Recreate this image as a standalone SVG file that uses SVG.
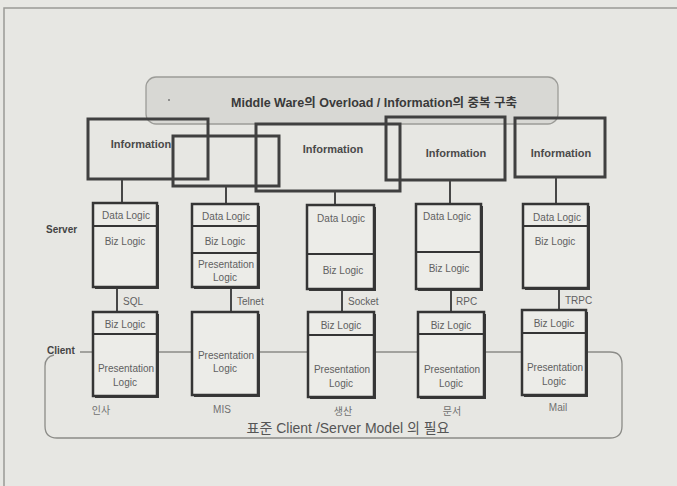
<svg xmlns="http://www.w3.org/2000/svg" width="677" height="486" viewBox="0 0 677 486">
<defs>
<style>
.bg{fill:#e7e7e3}
.frame{fill:none;stroke:#9a9a97;stroke-width:1.5}
.banner{fill:#d8d8d4;stroke:#9c9c98;stroke-width:1.3}
.info{fill:none;stroke:#404040;stroke-width:3}
.stack{fill:#ecece8;stroke:#353535;stroke-width:2.5}
.shadow{fill:#3a3a3a}
.div{stroke:#353535;stroke-width:2}
.conn{stroke:#474747;stroke-width:2;fill:none}
.cli{fill:none;stroke:#8c8c88;stroke-width:1.3}
text{font-family:"Liberation Sans","Noto Sans CJK KR",Arial,sans-serif}
.it{font-size:11px;font-weight:bold;fill:#4a4a4a;text-anchor:middle}
.lg{font-size:10px;fill:#606060;text-anchor:middle}
.pr{font-size:10px;fill:#606060}
.side{font-size:10px;font-weight:bold;fill:#444}
.nm{font-size:10px;fill:#707070;text-anchor:middle}
</style>
</defs>
<rect class="bg" x="0" y="0" width="677" height="486"/>
<rect class="frame" x="4" y="8" width="690" height="500"/>

<g id="banner">
<rect class="banner" x="146" y="77" width="412" height="47" rx="10"/>
<circle cx="169" cy="100" r="1" fill="#777"/>
<text x="374" y="107" font-size="12.5" font-weight="bold" fill="#3a3a3a" text-anchor="middle">Middle Ware의 Overload / Information의 중복 구축</text>
</g>

<g id="info1"><rect class="info" x="88" y="119" width="120" height="60"/><text class="it" x="141" y="148">Information</text></g>
<g id="info2"><rect class="info" x="173" y="136" width="106" height="50"/></g>
<g id="info3"><rect class="info" x="256" y="124" width="144" height="67"/><text class="it" x="333" y="153">Information</text></g>
<g id="info4"><rect class="info" x="386" y="117" width="119" height="63"/><text class="it" x="456" y="157">Information</text></g>
<g id="info5"><rect class="info" x="515" y="118" width="90" height="59"/><text class="it" x="561" y="157">Information</text></g>

<g id="labels">
<text class="side" x="46" y="233">Server</text>
</g>

<g id="clientArea">
<path class="cli" d="M80 352 H610 Q622 352 622 364 V426 Q622 438 610 438 H57 Q45 438 45 426 V366 Q45 357 54 355"/>
<text class="side" x="47" y="354">Client</text>
<text x="348" y="433" font-size="14" fill="#555" text-anchor="middle">표준 Client /Server Model 의 필요</text>
</g>

<g id="connectors">
<line class="conn" x1="122" y1="180" x2="122" y2="203"/>
<line class="conn" x1="226" y1="187" x2="226" y2="204"/>
<line class="conn" x1="335" y1="192" x2="335" y2="205"/>
<line class="conn" x1="450" y1="181" x2="450" y2="204"/>
<line class="conn" x1="556" y1="178" x2="556" y2="204"/>
<line class="conn" x1="117" y1="288" x2="117" y2="312"/>
<line class="conn" x1="231" y1="288" x2="231" y2="312"/>
<line class="conn" x1="342" y1="290" x2="342" y2="312"/>
<line class="conn" x1="451" y1="290" x2="451" y2="312"/>
<line class="conn" x1="559" y1="289" x2="559" y2="310"/>
<text class="pr" x="123" y="305">SQL</text>
<text class="pr" x="237" y="305">Telnet</text>
<text class="pr" x="348" y="305">Socket</text>
<text class="pr" x="456" y="305">RPC</text>
<text class="pr" x="565" y="304">TRPC</text>
</g>

<g id="server1">
<rect class="shadow" x="95" y="205" width="64" height="84"/>
<rect class="stack" x="93" y="203" width="64" height="84"/>
<line class="div" x1="93" y1="226" x2="157" y2="226"/>
<text class="lg" x="126" y="219">Data Logic</text>
<text class="lg" x="125" y="245">Biz Logic</text>
</g>
<g id="server2">
<rect class="shadow" x="194" y="206" width="66" height="83"/>
<rect class="stack" x="192" y="204" width="66" height="83"/>
<line class="div" x1="192" y1="226" x2="258" y2="226"/>
<line class="div" x1="192" y1="253" x2="258" y2="253"/>
<text class="lg" x="226" y="220">Data Logic</text>
<text class="lg" x="225" y="245">Biz Logic</text>
<text class="lg" x="226" y="268">Presentation</text>
<text class="lg" x="225" y="281">Logic</text>
</g>
<g id="server3">
<rect class="shadow" x="309" y="207" width="67" height="84"/>
<rect class="stack" x="307" y="205" width="67" height="84"/>
<line class="div" x1="307" y1="254" x2="374" y2="254"/>
<text class="lg" x="341" y="222">Data Logic</text>
<text class="lg" x="343" y="274">Biz Logic</text>
</g>
<g id="server4">
<rect class="shadow" x="418" y="206" width="65" height="85"/>
<rect class="stack" x="416" y="204" width="65" height="85"/>
<line class="div" x1="416" y1="252" x2="481" y2="252"/>
<text class="lg" x="447" y="220">Data Logic</text>
<text class="lg" x="449" y="272">Biz Logic</text>
</g>
<g id="server5">
<rect class="shadow" x="525" y="206" width="65" height="84"/>
<rect class="stack" x="523" y="204" width="65" height="84"/>
<line class="div" x1="523" y1="226" x2="588" y2="226"/>
<text class="lg" x="557" y="221">Data Logic</text>
<text class="lg" x="555" y="245">Biz Logic</text>
</g>

<g id="client1">
<rect class="shadow" x="95" y="314" width="64" height="84"/>
<rect class="stack" x="93" y="312" width="64" height="84"/>
<line class="div" x1="93" y1="334" x2="157" y2="334"/>
<text class="lg" x="125" y="328">Biz Logic</text>
<text class="lg" x="126" y="372">Presentation</text>
<text class="lg" x="125" y="386">Logic</text>
<text class="nm" x="101" y="414">인사</text>
</g>
<g id="client2">
<rect class="shadow" x="194" y="314" width="66" height="83"/>
<rect class="stack" x="192" y="312" width="66" height="83"/>
<text class="lg" x="226" y="359">Presentation</text>
<text class="lg" x="225" y="372">Logic</text>
<text class="nm" x="222" y="413">MIS</text>
</g>
<g id="client3">
<rect class="shadow" x="310" y="314" width="66" height="85"/>
<rect class="stack" x="308" y="312" width="66" height="85"/>
<line class="div" x1="308" y1="335" x2="374" y2="335"/>
<text class="lg" x="341" y="329">Biz Logic</text>
<text class="lg" x="342" y="373">Presentation</text>
<text class="lg" x="341" y="387">Logic</text>
<text class="nm" x="343" y="415">생산</text>
</g>
<g id="client4">
<rect class="shadow" x="420" y="314" width="66" height="85"/>
<rect class="stack" x="418" y="312" width="66" height="85"/>
<line class="div" x1="418" y1="334" x2="484" y2="334"/>
<text class="lg" x="451" y="329">Biz Logic</text>
<text class="lg" x="452" y="373">Presentation</text>
<text class="lg" x="451" y="387">Logic</text>
<text class="nm" x="452" y="415">문서</text>
</g>
<g id="client5">
<rect class="shadow" x="524" y="312" width="64" height="85"/>
<rect class="stack" x="522" y="310" width="64" height="85"/>
<line class="div" x1="522" y1="333" x2="586" y2="333"/>
<text class="lg" x="554" y="327">Biz Logic</text>
<text class="lg" x="555" y="371">Presentation</text>
<text class="lg" x="554" y="385">Logic</text>
<text class="nm" x="558" y="411">Mail</text>
</g>
</svg>
